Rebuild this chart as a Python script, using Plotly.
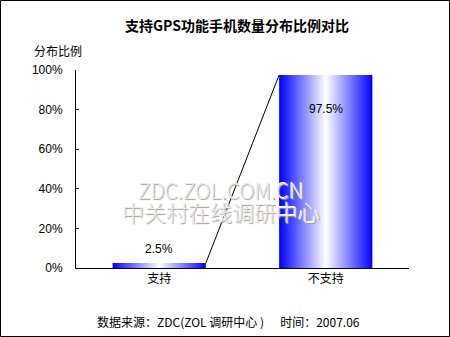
import plotly.graph_objects as go

categories = ["支持", "不支持"]
values = [2.5, 97.5]
value_labels = ["2.5%", "97.5%"]
y_ticks = [0, 20, 40, 60, 80, 100]
y_tick_labels = ["0%", "20%", "40%", "60%", "80%", "100%"]
title = "支持GPS功能手机数量分布比例对比"
y_title = "分布比例"
footer = "数据来源：ZDC(ZOL 调研中心 )      时间：2007.06"
watermark1 = "ZDC.ZOL.COM.CN"
watermark2 = "中关村在线调研中心"

W, H = 450, 337
ML, MR, MT, MB = 76, 41, 70, 69
PW, PH = W - ML - MR, H - MT - MB
BAR_W = 0.56
FONT = "Liberation Sans, Arial, Noto Sans CJK SC, sans-serif"
CJK = "Noto Sans CJK SC, Liberation Sans, sans-serif"

def px_x(p):
    return (p - ML) / PW

def px_y(p):
    return (H - MB - p) / PH

def text_at(x, y, text, family, size, color="black", shadow=None, weight=None):
    font = dict(family=family, size=size, color=color)
    if shadow:
        font["shadow"] = shadow
    if weight:
        font["weight"] = weight
    fig.add_annotation(x=px_x(x), y=px_y(y), xref="paper", yref="paper",
                       xanchor="center", yanchor="middle",
                       text=text, showarrow=False, font=font)

fig = go.Figure()

gradient = dict(type="horizontal",
                colorscale=[[0, "#0000ff"], [0.5, "#ffffff"], [1, "#0000ff"]])

for i, v in enumerate(values):
    x0, x1 = i - BAR_W / 2, i + BAR_W / 2
    fig.add_trace(go.Scatter(
        x=[x0, x1, x1, x0, x0], y=[0, 0, v, v, 0],
        mode="lines", line=dict(width=0, color="rgba(0,0,0,0)"),
        fill="toself", fillgradient=gradient,
        hoverinfo="skip", showlegend=False))

# series line connecting bar tops
fig.add_trace(go.Scatter(
    x=[0 + BAR_W / 2, 1 - BAR_W / 2], y=[values[0], values[1]],
    mode="lines", line=dict(color="black", width=1),
    hoverinfo="skip", showlegend=False))

# watermark (embossed look), two lines in one text block
emboss = "1px 1px 1px #9a9a9a, -1px -1px 0px #ffffff"
wm_text = ('<span style="font-size:21px">' + watermark1 + '</span><br>'
           '<span style="font-size:22px">' + watermark2 + '</span>')
text_at(221, 201, wm_text, CJK, 17, "#ececec", emboss, 300)

# data labels
fig.add_annotation(x=0, y=values[0], text=value_labels[0], showarrow=False,
                   xanchor="center", yanchor="bottom", yshift=5,
                   font=dict(family=FONT, size=12, color="black"))
fig.add_annotation(x=1, y=values[1], text=value_labels[1], showarrow=False,
                   xanchor="center", yanchor="middle", yshift=-34,
                   font=dict(family=FONT, size=12, color="black"))

# title, axis title, footer
text_at(237, 25, "<b>" + title + "</b>", CJK, 14)
text_at(58, 51, y_title, CJK, 12)
text_at(228, 321, footer, CJK, 12)

# outer border
fig.add_shape(type="rect", xref="paper", yref="paper",
              x0=px_x(0.5), x1=px_x(W - 0.5), y0=px_y(H - 0.5), y1=px_y(0.5),
              line=dict(color="black", width=1), layer="above")

fig.update_layout(
    width=W, height=H,
    margin=dict(l=ML, r=MR, t=MT, b=MB),
    paper_bgcolor="white", plot_bgcolor="white",
    font=dict(family=FONT, size=12, color="black"),
    showlegend=False,
)
fig.update_xaxes(
    range=[-0.5, 1.5], tickmode="array", tickvals=list(range(len(categories))),
    ticktext=categories, showgrid=False, zeroline=False,
    showline=True, linecolor="black", linewidth=1, ticks="",
    tickfont=dict(family=CJK, size=12, color="black"), fixedrange=True,
)
fig.update_yaxes(
    range=[0, 100], tickmode="array", tickvals=y_ticks, ticktext=y_tick_labels,
    showgrid=False, zeroline=False, showline=True, linecolor="black",
    linewidth=1, ticks="inside", ticklen=3, tickcolor="black",
    ticklabelstandoff=10,
    tickfont=dict(family=FONT, size=12, color="black"), fixedrange=True,
)

fig.write_html("out.html")
